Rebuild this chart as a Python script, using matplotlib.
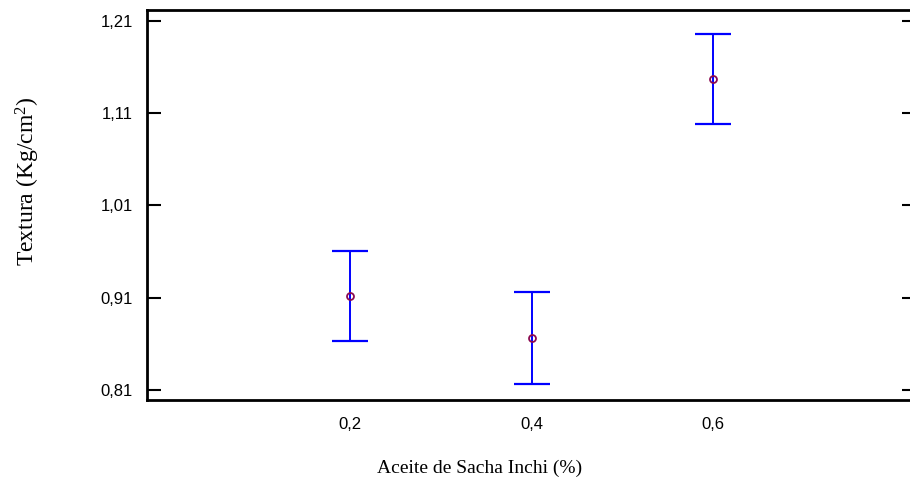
import matplotlib
matplotlib.use("Agg")
import matplotlib.pyplot as plt

plt.rcParams["mathtext.fontset"] = "custom"
plt.rcParams["mathtext.rm"] = "Liberation Serif"
plt.rcParams["mathtext.it"] = "Liberation Serif:italic"

# medias de textura por nivel de aceite y semiancho del intervalo
niveles = [0.2, 0.4, 0.6]
medias = [0.912, 0.866, 1.147]
error = [0.049, 0.050, 0.049]

yticks = [0.81, 0.91, 1.01, 1.11, 1.21]
yticklabels = ["0,81", "0,91", "1,01", "1,11", "1,21"]
xticklabels = ["0,2", "0,4", "0,6"]

fig = plt.figure(figsize=(9.1, 4.9), dpi=100)
ax = fig.add_axes([147 / 910, 90 / 490, (916 - 147) / 910, 390 / 490])

ax.errorbar(niveles, medias, yerr=error, fmt="none", ecolor="#0000ff",
            elinewidth=1.4, capsize=13, capthick=1.6, zorder=2)
ax.plot(niveles, medias, "o", ms=5, mfc="none", mec="#8b0a50", mew=1.3, zorder=3)

ax.set_xlim(-0.024, 0.824)
ax.set_ylim(0.7992, 1.2216)

ax.set_xticks(niveles)
ax.set_xticklabels(xticklabels, family="Liberation Sans", fontsize=12)
ax.set_yticks(yticks)
ax.set_yticklabels(yticklabels, family="Liberation Sans", fontsize=12)

ax.tick_params(axis="x", length=0, pad=12)
ax.tick_params(axis="y", direction="in", length=10, width=1.5, pad=10,
               left=True, right=True)

for s in ax.spines.values():
    s.set_linewidth(2)

ax.set_xlabel("Aceite de Sacha Inchi (%)", family="Liberation Serif", fontsize=14)
ax.xaxis.set_label_coords(0.433, -0.152)
ax.set_ylabel("Textura (Kg/cm$\\mathrm{^2}$)", family="Liberation Serif", fontsize=17)
ax.yaxis.set_label_coords(-0.136, 0.56)

fig.savefig("out.png", dpi=100)
